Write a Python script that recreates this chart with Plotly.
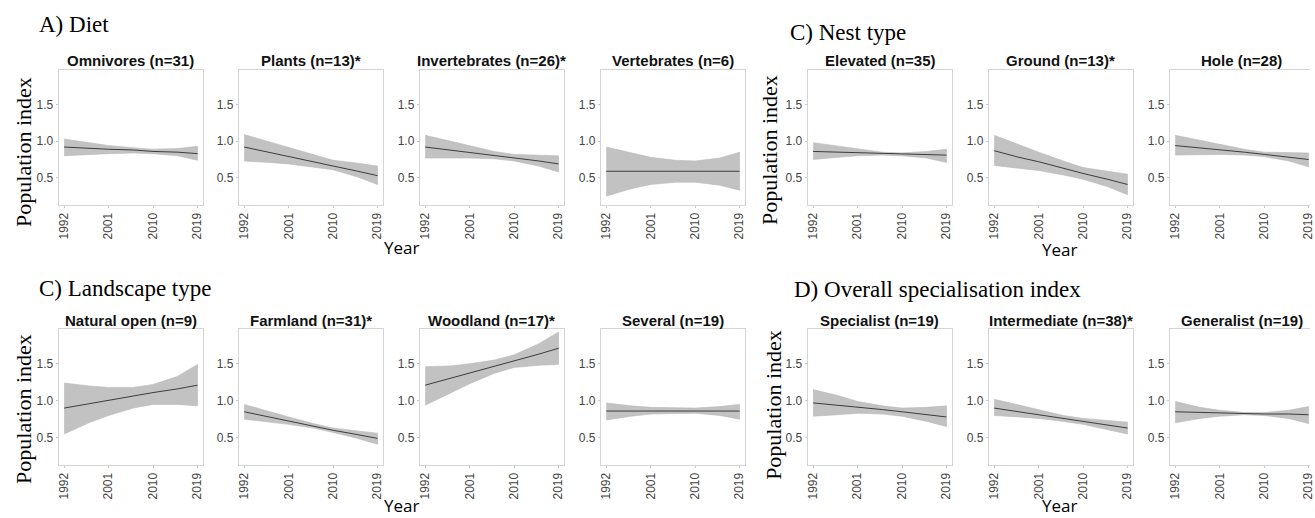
import plotly.graph_objects as go

# ---------------- data ----------------
years = [1992, 1997, 2001, 2006, 2010, 2015, 2019]
x_ticks = [1992, 2001, 2010, 2019]
x_tick_labels = ["1992", "2001", "2010", "2019"]
y_ticks = [0.5, 1.0, 1.5]
y_tick_labels = ["0.5", "1.0", "1.5"]

# A) Diet
omnivores_fit = [0.92, 0.90, 0.89, 0.88, 0.86, 0.85, 0.83]
omnivores_lo = [0.80, 0.82, 0.83, 0.84, 0.83, 0.80, 0.74]
omnivores_hi = [1.03, 0.98, 0.94, 0.91, 0.89, 0.90, 0.93]

plants_fit = [0.92, 0.85, 0.79, 0.72, 0.66, 0.59, 0.53]
plants_lo = [0.73, 0.71, 0.69, 0.65, 0.61, 0.51, 0.41]
plants_hi = [1.09, 0.99, 0.91, 0.81, 0.74, 0.70, 0.66]

invertebrates_fit = [0.92, 0.88, 0.85, 0.81, 0.77, 0.73, 0.69]
invertebrates_lo = [0.77, 0.77, 0.77, 0.76, 0.73, 0.66, 0.58]
invertebrates_hi = [1.08, 1.00, 0.93, 0.86, 0.82, 0.81, 0.80]

vertebrates_fit = [0.59, 0.59, 0.59, 0.59, 0.59, 0.59, 0.59]
vertebrates_lo = [0.25, 0.35, 0.41, 0.44, 0.44, 0.40, 0.33]
vertebrates_hi = [0.92, 0.84, 0.78, 0.74, 0.73, 0.77, 0.85]

# C) Nest type
elevated_fit = [0.86, 0.85, 0.84, 0.83, 0.82, 0.82, 0.81]
elevated_lo = [0.75, 0.78, 0.80, 0.81, 0.80, 0.77, 0.71]
elevated_hi = [0.98, 0.93, 0.89, 0.85, 0.84, 0.86, 0.89]

ground_fit = [0.87, 0.78, 0.72, 0.63, 0.56, 0.48, 0.41]
ground_lo = [0.67, 0.63, 0.60, 0.54, 0.48, 0.38, 0.27]
ground_hi = [1.08, 0.95, 0.85, 0.73, 0.64, 0.59, 0.55]

hole_fit = [0.94, 0.91, 0.88, 0.85, 0.82, 0.78, 0.75]
hole_lo = [0.81, 0.82, 0.82, 0.81, 0.79, 0.73, 0.65]
hole_hi = [1.08, 1.01, 0.95, 0.89, 0.85, 0.85, 0.84]

# C) Landscape type
natural_fit = [0.90, 0.96, 1.00, 1.06, 1.11, 1.16, 1.21]
natural_lo = [0.55, 0.70, 0.80, 0.90, 0.95, 0.95, 0.93]
natural_hi = [1.24, 1.20, 1.18, 1.18, 1.22, 1.33, 1.49]

farmland_fit = [0.85, 0.78, 0.73, 0.66, 0.60, 0.54, 0.49]
farmland_lo = [0.75, 0.71, 0.68, 0.63, 0.57, 0.49, 0.41]
farmland_hi = [0.95, 0.85, 0.78, 0.69, 0.63, 0.59, 0.56]

woodland_fit = [1.21, 1.30, 1.38, 1.47, 1.54, 1.63, 1.71]
woodland_lo = [0.94, 1.10, 1.23, 1.37, 1.45, 1.48, 1.49]
woodland_hi = [1.46, 1.47, 1.50, 1.55, 1.62, 1.77, 1.93]

several_fit = [0.86, 0.86, 0.86, 0.86, 0.86, 0.86, 0.86]
several_lo = [0.74, 0.79, 0.82, 0.83, 0.83, 0.80, 0.75]
several_hi = [0.97, 0.93, 0.91, 0.90, 0.90, 0.92, 0.95]

# D) Overall specialisation index
specialist_fit = [0.97, 0.94, 0.91, 0.88, 0.85, 0.81, 0.78]
specialist_lo = [0.79, 0.81, 0.83, 0.82, 0.79, 0.72, 0.65]
specialist_hi = [1.15, 1.07, 0.99, 0.93, 0.90, 0.91, 0.93]

intermediate_fit = [0.90, 0.85, 0.81, 0.76, 0.72, 0.67, 0.63]
intermediate_lo = [0.80, 0.78, 0.76, 0.72, 0.68, 0.61, 0.55]
intermediate_hi = [1.02, 0.94, 0.87, 0.80, 0.76, 0.73, 0.71]

generalist_fit = [0.85, 0.84, 0.84, 0.83, 0.82, 0.82, 0.81]
generalist_lo = [0.70, 0.76, 0.79, 0.81, 0.80, 0.76, 0.69]
generalist_hi = [0.99, 0.91, 0.87, 0.84, 0.84, 0.87, 0.92]

panel_titles = [
    "Omnivores (n=31)", "Plants (n=13)*", "Invertebrates (n=26)*", "Vertebrates (n=6)",
    "Elevated (n=35)", "Ground (n=13)*", "Hole (n=28)",
    "Natural open (n=9)", "Farmland (n=31)*", "Woodland (n=17)*", "Several (n=19)",
    "Specialist (n=19)", "Intermediate (n=38)*", "Generalist (n=19)",
]
section_titles = ["A) Diet", "C) Nest type", "C) Landscape type", "D) Overall specialisation index"]

series = [
    (omnivores_fit, omnivores_lo, omnivores_hi),
    (plants_fit, plants_lo, plants_hi),
    (invertebrates_fit, invertebrates_lo, invertebrates_hi),
    (vertebrates_fit, vertebrates_lo, vertebrates_hi),
    (elevated_fit, elevated_lo, elevated_hi),
    (ground_fit, ground_lo, ground_hi),
    (hole_fit, hole_lo, hole_hi),
    (natural_fit, natural_lo, natural_hi),
    (farmland_fit, farmland_lo, farmland_hi),
    (woodland_fit, woodland_lo, woodland_hi),
    (several_fit, several_lo, several_hi),
    (specialist_fit, specialist_lo, specialist_hi),
    (intermediate_fit, intermediate_lo, intermediate_hi),
    (generalist_fit, generalist_lo, generalist_hi),
]

# ---------------- layout geometry (pixels) ----------------
W, H = 1315, 518
PW = 145
left_cols = [57, 238, 420, 602]
right_cols = [810, 992, 1174]
rows = [(70, 205), (329, 465)]
XR = [1990.9, 2020.1]
YR = [0.13, 1.97]


def fx(px):
    return px / W


def fy(py):
    return 1 - py / H


positions = []
for r in range(2):
    for c in left_cols:
        positions.append((c, r))
    for c in right_cols:
        positions.append((c, r))

TICK_FONT = dict(family="Liberation Sans, Arial, sans-serif", size=12, color="#444444")
BORDER = "#d4d4d4"

fig = go.Figure()
layout = dict(
    width=W, height=H,
    margin=dict(l=0, r=0, t=0, b=0),
    paper_bgcolor="white", plot_bgcolor="white",
    showlegend=False,
)
annotations = []

for i, ((fit, lo, hi), (x0, r), title) in enumerate(zip(series, positions, panel_titles), start=1):
    xa = "x" if i == 1 else f"x{i}"
    ya = "y" if i == 1 else f"y{i}"
    x1 = x0 + PW
    clipped = x1 > W
    x1d = min(x1, W)
    xr = list(XR)
    if clipped:
        xr = [XR[0], XR[0] + (x1d - x0) / PW * (XR[1] - XR[0])]
    y_top, y_bot = rows[r]

    fig.add_trace(go.Scatter(
        x=years + years[::-1], y=hi + lo[::-1],
        fill="toself", fillcolor="#c2c2c2", mode="lines",
        line=dict(width=0.6, color="#b8b8b8"),
        xaxis=xa, yaxis=ya, hoverinfo="skip", showlegend=False,
    ))
    fig.add_trace(go.Scatter(
        x=years, y=fit, mode="lines",
        line=dict(color="#3c3c3c", width=1),
        xaxis=xa, yaxis=ya, hoverinfo="skip", showlegend=False,
    ))

    layout["xaxis" if i == 1 else f"xaxis{i}"] = dict(
        domain=[fx(x0), fx(x1d)], range=xr, anchor=ya,
        tickmode="array", tickvals=x_ticks, ticktext=x_tick_labels,
        tickangle=-90, tickfont=TICK_FONT, ticklabeloverflow="allow",
        showline=True, linecolor=BORDER, linewidth=1, mirror=True,
        ticks="outside", ticklen=2, tickcolor="#c8c8c8",
        showgrid=False, zeroline=False, fixedrange=True,
    )
    layout["yaxis" if i == 1 else f"yaxis{i}"] = dict(
        domain=[fy(y_bot), fy(y_top)], range=YR, anchor=xa,
        tickmode="array", tickvals=y_ticks, ticktext=y_tick_labels,
        tickfont=TICK_FONT,
        showline=True, linecolor=BORDER, linewidth=1, mirror=not clipped,
        ticks="outside", ticklen=2, tickcolor="#c8c8c8",
        showgrid=False, zeroline=False, fixedrange=True,
    )
    annotations.append(dict(
        text=f"<b>{title}</b>", x=fx(x0 + PW / 2), y=fy(y_top - 9),
        xref="paper", yref="paper", xanchor="center", yanchor="middle",
        showarrow=False,
        font=dict(family="Liberation Sans, Arial, sans-serif", size=15, color="#111111"),
    ))

SERIF = dict(family="Liberation Serif, Times New Roman, serif", size=23, color="black")
sec_pos = [(35, 24), (790, 33), (35, 288), (794, 289)]
for t, (sx, sy) in zip(section_titles, sec_pos):
    annotations.append(dict(text=t, x=fx(sx), y=fy(sy), xref="paper", yref="paper",
                            xanchor="left", yanchor="middle", showarrow=False, font=SERIF))

YLAB = dict(family="Liberation Serif, Times New Roman, serif", size=22, color="black")
ylab_pos = [(21, 152), (771, 150), (21, 409), (775, 405)]
for (lx, ly) in ylab_pos:
    annotations.append(dict(text="Population index", x=fx(lx), y=fy(ly), xref="paper", yref="paper",
                            xanchor="center", yanchor="middle", textangle=-90, showarrow=False,
                            font=YLAB))

xlab_pos = [(402, 248), (1063, 250), (402, 505), (1063, 505)]
for (lx, ly) in xlab_pos:
    annotations.append(dict(text="Year", x=fx(lx), y=fy(ly), xref="paper", yref="paper",
                            xanchor="center", yanchor="middle", showarrow=False,
                            font=dict(family="Open Sans, sans-serif", size=17, color="black")))

layout["annotations"] = annotations
fig.update_layout(**layout)
fig.write_html("out.html")
